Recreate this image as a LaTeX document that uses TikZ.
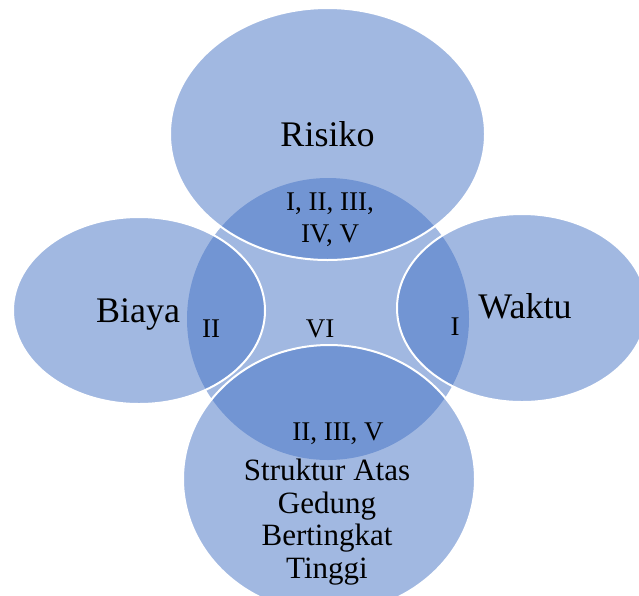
\documentclass[tikz,border=0pt]{standalone}
\usepackage{fontspec}
\setmainfont{Liberation Serif}
\usetikzlibrary{shapes.geometric}
\definecolor{venn}{HTML}{4472C4}
\begin{document}
\begin{tikzpicture}[x=1pt,y=-1pt,
  core/.style={circle, fill=venn, fill opacity=0.5, draw=none, inner sep=0pt},
  blob/.style={ellipse, fill=venn, fill opacity=0.5, draw=white, line width=2pt, inner sep=0pt},
  title/.style={font=\fontsize{36}{38}\selectfont, anchor=base, inner sep=0pt},
  tag/.style={font=\fontsize{27}{32}\selectfont, anchor=base, align=center, inner sep=0pt},
  body/.style={font=\fontsize{31}{32.5}\selectfont, anchor=base, align=center, inner sep=0pt}]
\useasboundingbox (0,0) rectangle (639,595);
\clip (0,0) rectangle (639,595);
% central disc
\node[core, minimum size=282pt] (hub) at (328,319) {};
% outer ellipses
\node[blob, minimum width=315pt, minimum height=252pt] (top) at (327.5,134) {};
\node[blob, minimum width=252pt, minimum height=187pt] (left) at (139,310.5) {};
\node[blob, minimum width=250pt, minimum height=188pt] (right) at (522,308) {};
\node[blob, minimum width=292pt, minimum height=268pt] (bottom) at (329,479) {};
% labels (multi-line nodes sit on the baseline of their last line)
\node[title] (risiko) at (327.5,146) {Risiko};
\node[title] (biaya) at (138,322) {Biaya};
\node[title] (waktu) at (525,318) {Waktu};
\node[tag] (tagtop) at (330,242) {I, II, III,\\IV, V};
\node[tag] (tagleft) at (211,337) {II};
\node[tag] (tagmid) at (320,337) {VI};
\node[tag] (tagright) at (455,335) {I};
\node[tag] (tagbottom) at (338,440) {II, III, V};
\node[body] (struktur) at (327,578) {Struktur Atas\\Gedung\\Bertingkat\\Tinggi};
\end{tikzpicture}
\end{document}
